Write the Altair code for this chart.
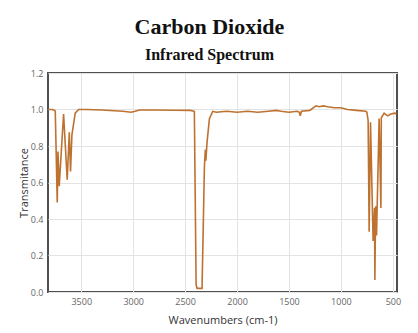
import altair as alt
import pandas as pd

wavenumber = [3815, 3780, 3755, 3750, 3731, 3724, 3712, 3670, 3635, 3615, 3603, 3590,
              3558, 3526, 3450, 3300, 3100, 3020, 2980, 2940, 2800, 2600, 2450, 2411,
              2394, 2385, 2337, 2314, 2305, 2300, 2289, 2266, 2234, 2200, 2100, 2000,
              1900, 1800, 1700, 1620, 1577, 1500, 1420, 1400, 1391, 1380, 1300, 1240,
              1209, 1170, 1128, 1064, 1000, 936, 850, 760, 750, 738, 728, 715, 690,
              676, 673, 666, 657, 632, 615, 611, 584, 551, 520, 480, 465]
transmittance = [1.0, 1.0, 0.995, 0.99, 0.49, 0.77, 0.58, 0.975, 0.615, 0.875, 0.66, 0.86,
                 0.98, 1.0, 1.0, 0.997, 0.99, 0.985, 0.99, 0.997, 0.997, 0.996, 0.995, 0.99,
                 0.04, 0.02, 0.02, 0.69, 0.78, 0.72, 0.82, 0.95, 0.99, 0.985, 0.99, 0.985,
                 0.99, 0.985, 0.99, 0.995, 0.99, 0.985, 0.99, 0.985, 0.965, 0.99, 0.995, 1.02,
                 1.015, 1.02, 1.015, 1.01, 1.01, 1.0, 0.995, 0.99, 0.985, 0.94, 0.33, 0.93, 0.28,
                 0.46, 0.066, 0.47, 0.31, 0.95, 0.46, 0.955, 0.98, 0.965, 0.975, 0.98, 0.975]

df = pd.DataFrame({"wn": wavenumber, "t": transmittance, "i": list(range(len(wavenumber)))})

x_ticks = [3500, 3000, 2500, 2000, 1500, 1000, 500]
y_ticks = [0.0, 0.2, 0.4, 0.6, 0.8, 1.0, 1.2]

chart = alt.Chart(df).mark_line(color="#bd7230", strokeWidth=1.6, clip=True).encode(
    x=alt.X("wn:Q", title="Wavenumbers (cm-1)",
            scale=alt.Scale(domain=[3820, 460], nice=False, zero=False),
            axis=alt.Axis(values=x_ticks, format="d", grid=True, ticks=False, domain=False,
                          labelPadding=5, titlePadding=8)),
    y=alt.Y("t:Q", title="Transmitance",
            scale=alt.Scale(domain=[0, 1.2], nice=False),
            axis=alt.Axis(values=y_ticks, format=".1f", grid=True, ticks=False, domain=False,
                          labelPadding=5, titlePadding=1)),
    order="i:Q",
).properties(
    width=349, height=219,
    title=alt.Title("Carbon Dioxide", subtitle="Infrared Spectrum", anchor="middle",
                    frame="bounds", font="Liberation Serif", fontSize=22, fontWeight="bold",
                    color="#111", subtitleFont="Liberation Serif", subtitleFontSize=16,
                    subtitleFontWeight="bold", subtitleColor="#111", subtitlePadding=8,
                    offset=5),
    padding={"left": 10, "top": 8, "right": 5, "bottom": 5},
).configure_view(
    stroke="#505050", strokeWidth=2
).configure_axis(
    gridColor="#e3e3e3", gridWidth=1,
    labelFont="Open Sans", labelFontSize=9, labelColor="#666",
    titleFont="Open Sans", titleFontSize=11, titleColor="#333", titleFontWeight="normal",
)

chart.save("out.html", embed_options={"renderer": "svg", "actions": False})
